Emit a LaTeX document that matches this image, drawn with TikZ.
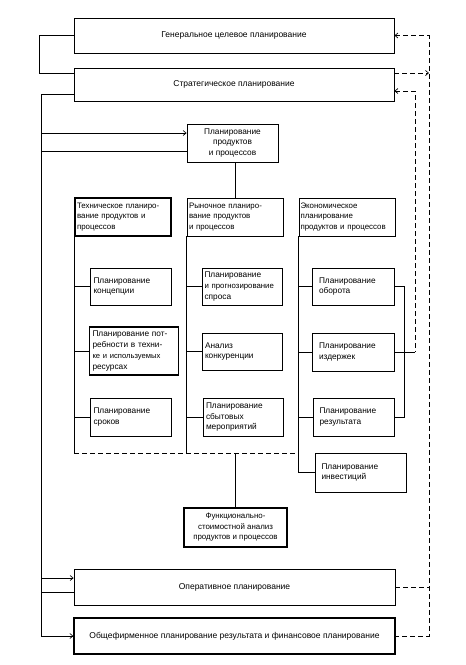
\documentclass[tikz,border=0pt]{standalone}
\usepackage{fontspec}
\setmainfont{Liberation Sans}
\usetikzlibrary{arrows.meta,calc}
\tikzset{
  bx/.style={draw, line width=0.8pt, inner sep=0pt, font=\fontsize{7.9}{10.5}\selectfont},
  bxthick/.style={bx, line width=1.3pt},
  big/.style={font=\fontsize{8.5}{10.5}\selectfont},
  sub/.style={font=\fontsize{8.3}{10.8}\selectfont},
  ln/.style={line width=0.65pt},
  dsh/.style={line width=0.7pt, dash pattern=on 5pt off 3pt},
  arr/.style={-{Straight Barb[length=3pt,width=5pt]}},
  rarr/.style={{Straight Barb[length=3pt,width=5pt]}-},
}
\begin{document}
\begin{tikzpicture}[x=1pt,y=-1pt]
\path[use as bounding box, fill=white] (0,0) rectangle (466,665);

% big boxes
\node[bx,big, minimum width=320, minimum height=35] (gen) at (234,35.5) {Генеральное целевое планирование};
\node[bx,big, minimum width=320, minimum height=33] (strat) at (234,84.5) {Стратегическое планирование};
\node[bx,sub, minimum width=91, minimum height=38, align=center] (prod) at (232.5,143) {Планирование\\продуктов\\и процессов};

% headers
\node[bxthick, minimum width=96, minimum height=38, text width=92, align=left] (tech) at (123,217) {Техническое планиро-\\вание продуктов и\\процессов};
\node[bx, minimum width=96, minimum height=38, text width=92, align=left] (market) at (235,217) {Рыночное планиро-\\вание продуктов\\и процессов};
\node[bx, minimum width=96, minimum height=38, text width=93, align=left] (econ) at (347,217) {Экономическое\\планирование\\продуктов и процессов};

% technical column
\node[bx,sub, minimum width=81, minimum height=37, text width=74, align=left] (t1) at (130.5,286.5) {Планирование\\концепции};
\node[bxthick,sub, minimum width=89, minimum height=48, text width=83, align=left] (t2) at (134,351) {Планирование пот-\\ребности в техни-\\{\fontsize{7.6}{10.8}\selectfont ке и используемых}\\ресурсах};
\node[bx,sub, minimum width=81, minimum height=38, text width=74, align=left] (t3) at (130.5,417) {Планирование\\сроков};

% market column
\node[bx,sub, minimum width=80, minimum height=37, text width=76, align=left] (m1) at (242.5,286.5) {Планирование\\{\fontsize{7.8}{10.8}\selectfont и прогнозирование}\\спроса};
\node[bx,sub, minimum width=80, minimum height=37, text width=74, align=left] (m2) at (242,351.5) {Анализ\\конкуренции};
\node[bx,sub, minimum width=80, minimum height=38, text width=74, align=left] (m3) at (243,417) {Планирование\\сбытовых\\мероприятий};

% economic column
\node[bx,sub, minimum width=82, minimum height=37, text width=68, align=left] (e1) at (353,286.5) {Планирование\\оборота};
\node[bx,sub, minimum width=82, minimum height=38, text width=68, align=left] (e2) at (353,352) {Планирование\\издержек};
\node[bx,sub, minimum width=81, minimum height=38, text width=68, align=left] (e3) at (353.5,417) {Планирование\\результата};
\node[bx,sub, minimum width=91, minimum height=39, text width=78, align=left] (e4) at (360.5,472.5) {Планирование\\инвестиций};

% functional cost analysis
\node[bxthick, minimum width=103, minimum height=39, align=center] (func) at (235.5,527.5) {Функционально-\\стоимостной анализ\\продуктов и процессов};

% bottom boxes
\node[bx,big, minimum width=321, minimum height=36] (oper) at (234.5,587) {Оперативное планирование};
\node[bxthick,big, minimum width=321, minimum height=36] (bottom) at (234.5,636) {Общефирменное планирование результата и финансовое планирование};

% helper coordinates
\coordinate (Lx) at (41,0);
\coordinate (Rx) at (429,0);
\coordinate (Qx) at (415,0);
\coordinate (Bx) at (404,0);
\coordinate (Hy) at (0,453);

% left side
\draw[ln] (gen.west) -- ++(-34,0) |- ([yshift=11.5pt]strat.west);
\coordinate (s1) at ([yshift=-9.5pt]strat.west);
\draw[ln] (s1) -| (Lx |- bottom.west);
\draw[ln,arr] (Lx |- bottom.west) -- (bottom.west);
\coordinate (p1) at ([yshift=10pt]prod.west);
\draw[ln,arr] (Lx |- p1) -- (p1);
\coordinate (p2) at ([yshift=-8pt]prod.west);
\draw[ln] (p2) -- (Lx |- p2);
\coordinate (o1) at ([yshift=9pt]oper.west);
\draw[ln,arr] (Lx |- o1) -- (o1);
\coordinate (o2) at ([yshift=-5pt]oper.west);
\draw[ln] (o2) -- (Lx |- o2);

% right side
\draw[dsh,rarr] (gen.east) -- (Rx |- gen.east) -- (Rx |- bottom.east) -- (bottom.east);
\draw[dsh] (oper.east) -- (Rx |- oper.east);
\coordinate (s2) at ([yshift=11.5pt]strat.east);
\draw[dsh,arr] (s2) -- (Rx |- s2);
\coordinate (s3) at ([yshift=-6.5pt]strat.east);
\draw[dsh,rarr] (s3) -- (Qx |- s3) -- (Qx |- e2.east);
\draw[ln] (e1.east) -- (Bx |- e1.east) -- (Bx |- e3.east) -- (e3.east);
\draw[ln] (e2.east) -- (Qx |- e2.east);

% middle
\draw[ln] (market.north |- prod.south) -- (market.north);
\draw[ln] (tech.south west) -- (tech.south west |- Hy);
\foreach \n in {t1,t2,t3} \draw[ln] (\n.west) -- (tech.south west |- \n.west);
\draw[ln] (market.south west) -- (market.south west |- Hy);
\foreach \n in {m1,m2,m3} \draw[ln] (\n.west) -- (market.south west |- \n.west);
\draw[ln] (econ.south west) -- (econ.south west |- e4.west) -- (e4.west);
\foreach \n in {e1,e2,e3} \draw[ln] (\n.west) -- (econ.south west |- \n.west);
\draw[dsh] (tech.south west |- Hy) -- (econ.south west |- Hy);
\draw[ln] (func.north |- Hy) -- (func.north);
\end{tikzpicture}
\end{document}
